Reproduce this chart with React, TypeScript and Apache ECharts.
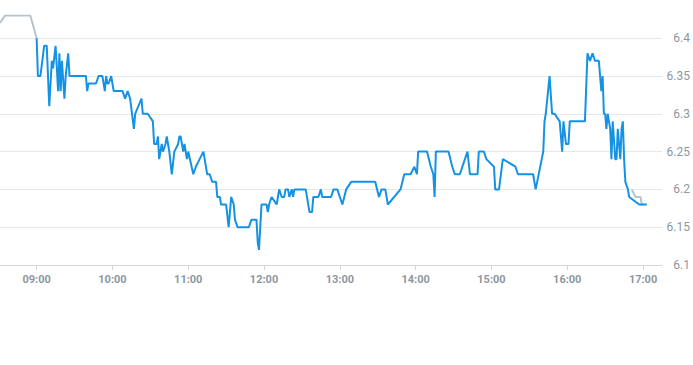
import React, { useEffect, useRef } from "react";
import * as echarts from "echarts";

const preTimes = ["08:31", "08:35", "08:55", "09:00"];
const preValues = [6.42, 6.43, 6.43, 6.4];

const mainTimes = [
  "09:00", "09:01", "09:03", "09:06", "09:08", "09:10", "09:12", "09:13", "09:15", "09:17",
  "09:18", "09:19", "09:20", "09:22", "09:23", "09:25", "09:26", "09:39", "09:40", "09:41",
  "09:47", "09:49", "09:52", "09:54", "09:55", "09:56", "09:57", "09:59", "10:01", "10:08",
  "10:10", "10:12", "10:14", "10:17", "10:18", "10:23", "10:24", "10:28", "10:32", "10:33",
  "10:35", "10:36", "10:37", "10:38", "10:39", "10:40", "10:42", "10:43", "10:45", "10:47",
  "10:49", "10:52", "10:53", "10:54", "10:56", "10:57", "10:59", "11:00", "11:04", "11:06",
  "11:09", "11:12", "11:15", "11:17", "11:19", "11:22", "11:23", "11:25", "11:26", "11:30",
  "11:32", "11:34", "11:36", "11:37", "11:39", "11:48", "11:50", "11:54", "11:55", "11:56",
  "11:58", "12:02", "12:03", "12:04", "12:06", "12:10", "12:12", "12:14", "12:16", "12:17",
  "12:19", "12:20", "12:22", "12:23", "12:24", "12:33", "12:36", "12:38", "12:39", "12:43",
  "12:45", "12:46", "12:53", "12:55", "12:58", "13:02", "13:05", "13:09", "13:28", "13:31",
  "13:33", "13:36", "13:38", "13:48", "13:51", "13:56", "13:59", "14:01", "14:02", "14:09",
  "14:12", "14:14", "14:15", "14:16", "14:26", "14:29", "14:31", "14:35", "14:41", "14:43",
  "14:49", "14:50", "14:54", "14:56", "15:02", "15:03", "15:06", "15:09", "15:19", "15:21",
  "15:33", "15:35", "15:41", "15:42", "15:43", "15:46", "15:48", "15:50", "15:54", "15:56",
  "15:57", "15:59", "16:01", "16:02", "16:14", "16:16", "16:18", "16:20", "16:22", "16:25",
  "16:27", "16:28", "16:29", "16:30", "16:31", "16:32", "16:34", "16:35", "16:36", "16:38",
  "16:39", "16:40", "16:42", "16:43", "16:44", "16:45", "16:46", "16:48", "16:49", "16:57",
  "17:01", "17:03",
];
const mainValues = [
  6.4, 6.35, 6.35, 6.39, 6.39, 6.31, 6.37, 6.36, 6.39, 6.33,
  6.38, 6.33, 6.37, 6.32, 6.35, 6.38, 6.35, 6.35, 6.33, 6.34,
  6.34, 6.35, 6.35, 6.33, 6.35, 6.34, 6.34, 6.35, 6.33, 6.33,
  6.32, 6.33, 6.32, 6.28, 6.3, 6.32, 6.3, 6.3, 6.29, 6.26,
  6.26, 6.27, 6.24, 6.25, 6.26, 6.25, 6.26, 6.27, 6.25, 6.22,
  6.25, 6.26, 6.27, 6.27, 6.25, 6.26, 6.24, 6.25, 6.22, 6.23,
  6.24, 6.25, 6.22, 6.22, 6.21, 6.21, 6.19, 6.19, 6.18, 6.18,
  6.15, 6.19, 6.18, 6.16, 6.15, 6.15, 6.16, 6.16, 6.13, 6.12,
  6.18, 6.18, 6.17, 6.18, 6.19, 6.18, 6.2, 6.19, 6.19, 6.2,
  6.2, 6.19, 6.2, 6.19, 6.2, 6.2, 6.17, 6.17, 6.19, 6.19,
  6.2, 6.19, 6.19, 6.2, 6.2, 6.18, 6.2, 6.21, 6.21, 6.19,
  6.2, 6.2, 6.18, 6.2, 6.22, 6.22, 6.23, 6.22, 6.25, 6.25,
  6.23, 6.22, 6.19, 6.25, 6.25, 6.23, 6.22, 6.22, 6.25, 6.22,
  6.22, 6.25, 6.25, 6.24, 6.23, 6.2, 6.2, 6.24, 6.23, 6.22,
  6.22, 6.2, 6.25, 6.29, 6.3, 6.35, 6.3, 6.3, 6.29, 6.25,
  6.29, 6.26, 6.26, 6.29, 6.29, 6.38, 6.37, 6.38, 6.37, 6.37,
  6.33, 6.35, 6.3, 6.3, 6.28, 6.3, 6.28, 6.24, 6.29, 6.24,
  6.24, 6.28, 6.24, 6.28, 6.29, 6.24, 6.21, 6.2, 6.19, 6.18,
  6.18, 6.18,
];

const postTimes = ["16:51", "16:54", "16:58", "16:59", "17:01"];
const postValues = [6.2, 6.19, 6.19, 6.18, 6.18];

const tickTimes = ["09:00", "10:00", "11:00", "12:00", "13:00", "14:00", "15:00", "16:00", "17:00"];
const yTicks = [6.1, 6.15, 6.2, 6.25, 6.3, 6.35, 6.4];

const toMin = (s: string) => {
  const [h, m] = s.split(":").map(Number);
  return h * 60 + m;
};
const fmt = (v: number) => {
  const h = Math.floor(v / 60);
  const m = Math.round(v - h * 60);
  return `${String(h).padStart(2, "0")}:${String(m).padStart(2, "0")}`;
};
const pairs = (t: string[], v: number[]) => t.map((s, i) => [toMin(s), v[i]]);

export default function App() {
  const ref = useRef<HTMLDivElement>(null);
  useEffect(() => {
    if (!ref.current) return;
    const chart = echarts.init(ref.current, undefined, { renderer: "svg" });
    const ticks = tickTimes.map(toMin);
    chart.setOption({
      animation: false,
      grid: { left: 0, right: 29, top: 15.5, bottom: 100 },
      xAxis: {
        type: "value",
        min: toMin("08:31"),
        max: toMin("17:15"),
        splitLine: { show: false },
        axisLine: { lineStyle: { color: "#d4d8dc", width: 1 } },
        axisTick: { show: true, customValues: ticks, length: 5, lineStyle: { color: "#d4d8dc" } },
        axisLabel: {
          customValues: ticks,
          formatter: (v: number) => fmt(v),
          color: "#8d97a1",
          fontSize: 11,
          fontWeight: "bold",
          fontFamily: "Roboto, Arial, sans-serif",
          margin: 9,
        },
      },
      yAxis: {
        type: "value",
        position: "right",
        min: 6.1,
        max: 6.43,
        interval: 0.05,
        axisLine: { show: false },
        axisTick: { show: false },
        splitLine: { showMaxLine: false, lineStyle: { color: "#e6e8ea", width: 1 } },
        axisLabel: {
          align: "right",
          margin: 28,
          color: "#8d97a1",
          fontSize: 12,
          fontFamily: "Roboto, Arial, sans-serif",
          formatter: (v: number) => {
            const hit = yTicks.find((t) => Math.abs(t - v) < 1e-6);
            return hit !== undefined ? String(hit) : "";
          },
        },
      },
      series: [
        {
          type: "line",
          data: pairs(preTimes, preValues),
          showSymbol: false,
          lineStyle: { color: "#b7c3cc", width: 2 },
          z: 1,
        },
        {
          type: "line",
          data: pairs(postTimes, postValues),
          showSymbol: false,
          lineStyle: { color: "#b7c3cc", width: 2 },
          z: 1,
        },
        {
          type: "line",
          data: pairs(mainTimes, mainValues),
          showSymbol: false,
          lineStyle: { color: "#1592e3", width: 2 },
          z: 2,
        },
      ],
    });
    return () => chart.dispose();
  }, []);
  return <div ref={ref} style={{ width: 693, height: 365, position: "absolute", left: 0, top: 0 }} />;
}
